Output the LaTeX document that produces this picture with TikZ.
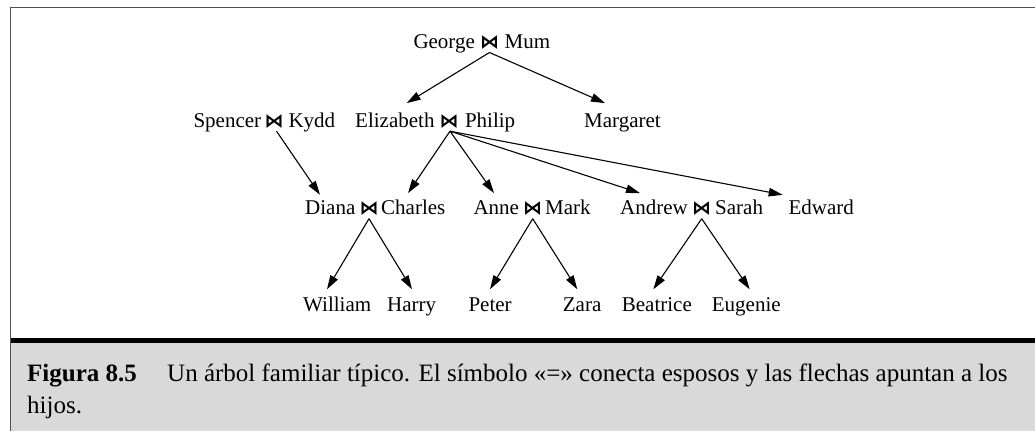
\documentclass[tikz,border=0pt]{standalone}
\usepackage{fontspec}
\setmainfont{Liberation Serif}
\newfontfamily\symfont{DejaVu Sans}
\usetikzlibrary{arrows.meta}
\definecolor{framegray}{RGB}{80,80,80}
\definecolor{capgray}{RGB}{217,217,217}
\begin{document}
\begin{tikzpicture}[x=1pt,y=-1pt,
  nm/.style={anchor=base west, inner sep=0pt, text height=14pt, text depth=4pt, font=\fontsize{21}{25}\selectfont},
  tie/.style={anchor=base, inner sep=0pt, text depth=4pt, font=\symfont\bfseries\fontsize{19}{22}\selectfont},
  arr/.style={line width=1.1pt, -{Triangle[length=14pt,width=8.5pt]}},
  captext/.style={anchor=base west, inner sep=0pt, font=\fontsize{25}{32}\selectfont},
]
\useasboundingbox (0,0) rectangle (1035,431);
% frame and caption band
\fill[capgray] (10.5,342.5) rectangle (1035,431);
\draw[line width=5pt, black] (10.5,340) -- (1035,340);
\draw[line width=1.3pt, framegray] (10,7.2) -- (1035,7.2);
\draw[line width=1.3pt, framegray] (10.6,6.6) -- (10.6,431);

% row 1
\node[nm] (george) at (413.3,48.3) {George};
\node[tie] (t1) at (489.5,48.3) {⋈};
\node[nm] (mum) at (504.5,48.3) {Mum};
% row 2
\node[nm] (spencer) at (193.3,127) {Spencer};
\node[tie] (t2) at (274,127) {⋈};
\node[nm] (kydd) at (288.3,127) {Kydd};
\node[nm] (eliz) at (355,127) {Elizabeth};
\node[tie] (t3) at (449,127) {⋈};
\node[nm] (philip) at (464.8,127) {Philip};
\node[nm] (margaret) at (584,127) {Margaret};
% row 3
\node[nm] (diana) at (305,214.5) {Diana};
\node[tie] (t4) at (369,214.5) {⋈};
\node[nm] (charles) at (381,214.5) {Charles};
\node[nm] (anne) at (473.3,214.5) {Anne};
\node[tie] (t5) at (532.7,214.5) {⋈};
\node[nm] (mark) at (545,214.5) {Mark};
\node[nm] (andrew) at (620,214.5) {Andrew};
\node[tie] (t6) at (701.7,214.5) {⋈};
\node[nm] (sarah) at (715,214.5) {Sarah};
\node[nm] (edward) at (788.3,214.5) {Edward};
% row 4
\node[nm] (william) at (303,311.5) {William};
\node[nm] (harry) at (387,311.5) {Harry};
\node[nm] (peter) at (468.3,311.5) {Peter};
\node[nm] (zara) at (562.7,311.5) {Zara};
\node[nm] (beatrice) at (621.7,311.5) {Beatrice};
\node[nm] (eugenie) at (711.7,311.5) {Eugenie};

% arrows
\draw[arr] (t1.south) -- ([xshift=51.7pt,yshift=9.7pt]eliz.north west);
\draw[arr] (t1.south) -- ([xshift=21pt,yshift=9.7pt]margaret.north west);
\draw[arr] ([xshift=2.5pt]t2.south) -- ([xshift=15pt,yshift=5.5pt]diana.north west);
\draw[arr] ([xshift=1pt]t3.south) -- ([xshift=27pt,yshift=7.2pt]charles.north west);
\draw[arr] ([xshift=1pt]t3.south) -- ([xshift=20.7pt,yshift=7.2pt]anne.north west);
\draw[arr] ([xshift=1pt]t3.south) -- ([xshift=20pt,yshift=7.2pt]andrew.north west);
\draw[arr] ([xshift=1pt]t3.south) -- ([xshift=-5.6pt,yshift=5.5pt]edward.north west);
\draw[arr] (t4.south) -- ([xshift=24pt,yshift=8pt]william.north west);
\draw[arr] (t4.south) -- ([xshift=25pt,yshift=8pt]harry.north west);
\draw[arr] (t5.south) -- ([xshift=21.7pt,yshift=8pt]peter.north west);
\draw[arr] (t5.south) -- ([xshift=14.6pt,yshift=8pt]zara.north west);
\draw[arr] (t6.south) -- ([xshift=31.6pt,yshift=8pt]beatrice.north west);
\draw[arr] (t6.south) -- ([xshift=38pt,yshift=8pt]eugenie.north west);

% caption
\node[captext, font=\fontsize{25}{32}\selectfont\bfseries] (fig) at (27,381) {Figura 8.5};
\node[captext] (cap1) at (167,381) {Un árbol familiar típico. El símbolo «=» conecta esposos y las flechas apuntan a los};
\node[captext] (cap2) at (27,413) {hijos.};
\end{tikzpicture}
\end{document}
